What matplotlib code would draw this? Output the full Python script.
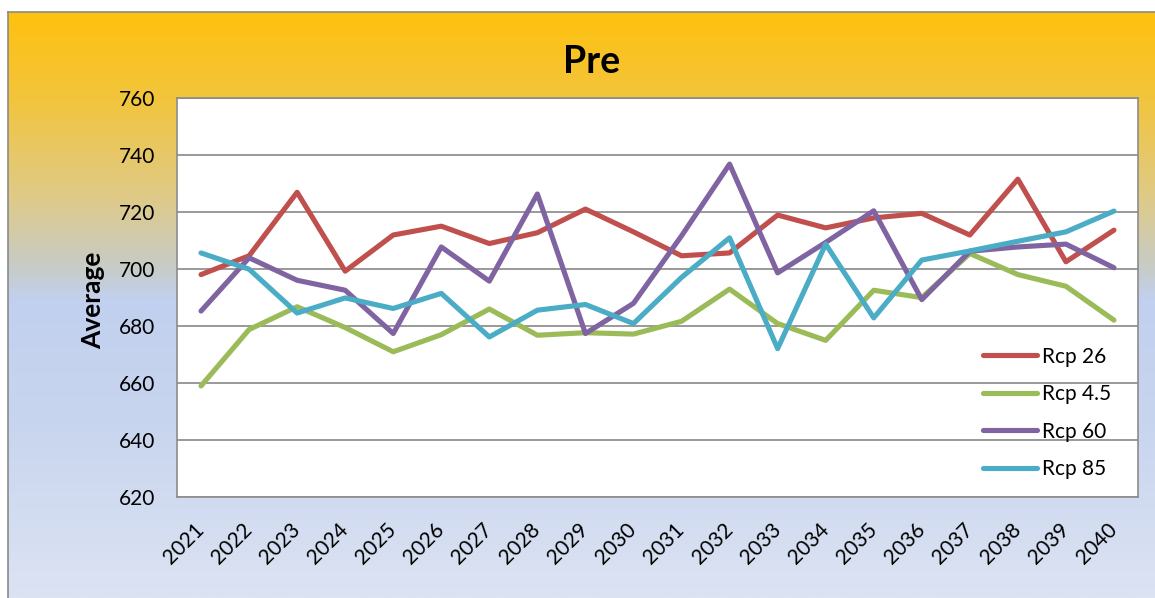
import numpy as np
import matplotlib
matplotlib.use("Agg")
import matplotlib.pyplot as plt
from matplotlib.colors import LinearSegmentedColormap

plt.rcParams['font.family'] = ['Lato', 'DejaVu Sans']

years = ['2021', '2022', '2023', '2024', '2025', '2026', '2027', '2028', '2029', '2030',
         '2031', '2032', '2033', '2034', '2035', '2036', '2037', '2038', '2039', '2040']

rcp26 = [698.1, 704.7, 727.0, 699.3, 712.0, 715.1, 709.0, 712.8, 721.1, 713.1,
         704.7, 705.7, 719.0, 714.5, 718.0, 719.6, 712.0, 731.6, 702.6, 713.7]
rcp45 = [659.0, 678.8, 686.8, 679.5, 671.0, 677.0, 686.0, 676.8, 677.7, 677.2,
         681.7, 693.0, 680.9, 675.0, 692.6, 690.0, 705.5, 698.1, 694.0, 682.1]
rcp60 = [685.3, 704.0, 696.1, 692.6, 677.4, 707.8, 695.8, 726.4, 677.4, 688.0,
         711.7, 736.9, 698.7, 709.4, 720.5, 689.3, 706.3, 707.8, 708.8, 700.5]
rcp85 = [705.7, 700.0, 684.6, 689.9, 686.2, 691.5, 676.2, 685.6, 687.6, 680.9,
         697.1, 711.0, 672.1, 708.8, 682.9, 703.2, 706.4, 709.8, 713.1, 720.4]

series = [("Rcp 26", rcp26, "#C0504D"),
          ("Rcp 4.5", rcp45, "#9BBB59"),
          ("Rcp 60", rcp60, "#8064A2"),
          ("Rcp 85", rcp85, "#4BACC6")]

W, H = 1155, 598
fig = plt.figure(figsize=(W / 100, H / 100), dpi=100)
fig.patch.set_facecolor("white")

# gradient background of the chart box (gold on top, pale blue lower down)
bg = fig.add_axes([8 / W, 0, 1, (H - 12) / H], zorder=0)
stops = [(0.00, (254, 193, 14)),
         (0.15, (242, 197, 62)),
         (0.32, (222, 202, 138)),
         (0.43, (200, 204, 196)),
         (0.49, (193, 208, 238)),
         (0.70, (200, 213, 238)),
         (1.00, (220, 227, 243))]
cmap = LinearSegmentedColormap.from_list(
    "bg", [(p, tuple(c / 255 for c in rgb)) for p, rgb in stops])
grad = np.linspace(0, 1, 512).reshape(-1, 1)
bg.imshow(grad, aspect="auto", cmap=cmap, extent=[0, 1, 0, 1], origin="upper")
bg.set_xlim(0, 1)
bg.set_ylim(0, 1)
bg.set_xticks([])
bg.set_yticks([])
for side in ["right", "bottom"]:
    bg.spines[side].set_visible(False)
for side in ["left", "top"]:
    bg.spines[side].set_color("#8a8a8a")
    bg.spines[side].set_linewidth(1.2)

ax = fig.add_axes([177 / W, 1 - 497 / H, (1138 - 177) / W, (497 - 98.3) / H], zorder=1)
ax.set_facecolor("white")

x = np.arange(len(years))
for name, vals, col in series:
    ax.plot(x, vals, color=col, lw=3.7, label=name,
            solid_joinstyle="round", solid_capstyle="round")

ax.set_xlim(-0.5, len(years) - 0.5)
ax.set_ylim(620, 760)
ax.set_yticks(np.arange(620, 761, 20))
ax.set_xticks(x)
ax.set_xticklabels(years)
ax.yaxis.grid(True, color="#878787", lw=1.2)
ax.set_axisbelow(True)
for s in ax.spines.values():
    s.set_color("#8c8c8c")
    s.set_linewidth(1.2)

ax.tick_params(axis="y", length=0, pad=16, labelsize=15)
ax.tick_params(axis="x", length=0, pad=21, labelsize=15)
plt.setp(ax.get_xticklabels(), rotation=45, ha="right", va="center",
         rotation_mode="anchor")

fig.text(592 / W, 1 - 73.3 / H, "Pre", ha="center", va="baseline",
         fontsize=27, fontweight="bold")
fig.text(93 / W, 1 - 300 / H, "Average", rotation=90, ha="center", va="center",
         fontsize=19, fontweight="bold")

ax.legend(loc="center left", bbox_to_anchor=(983 / W, 1 - 413 / H),
          bbox_transform=fig.transFigure, frameon=False, fontsize=15,
          borderpad=0, borderaxespad=0, handlelength=2.6, handletextpad=0.25,
          labelspacing=0.84)

fig.savefig("out.png", dpi=100)
